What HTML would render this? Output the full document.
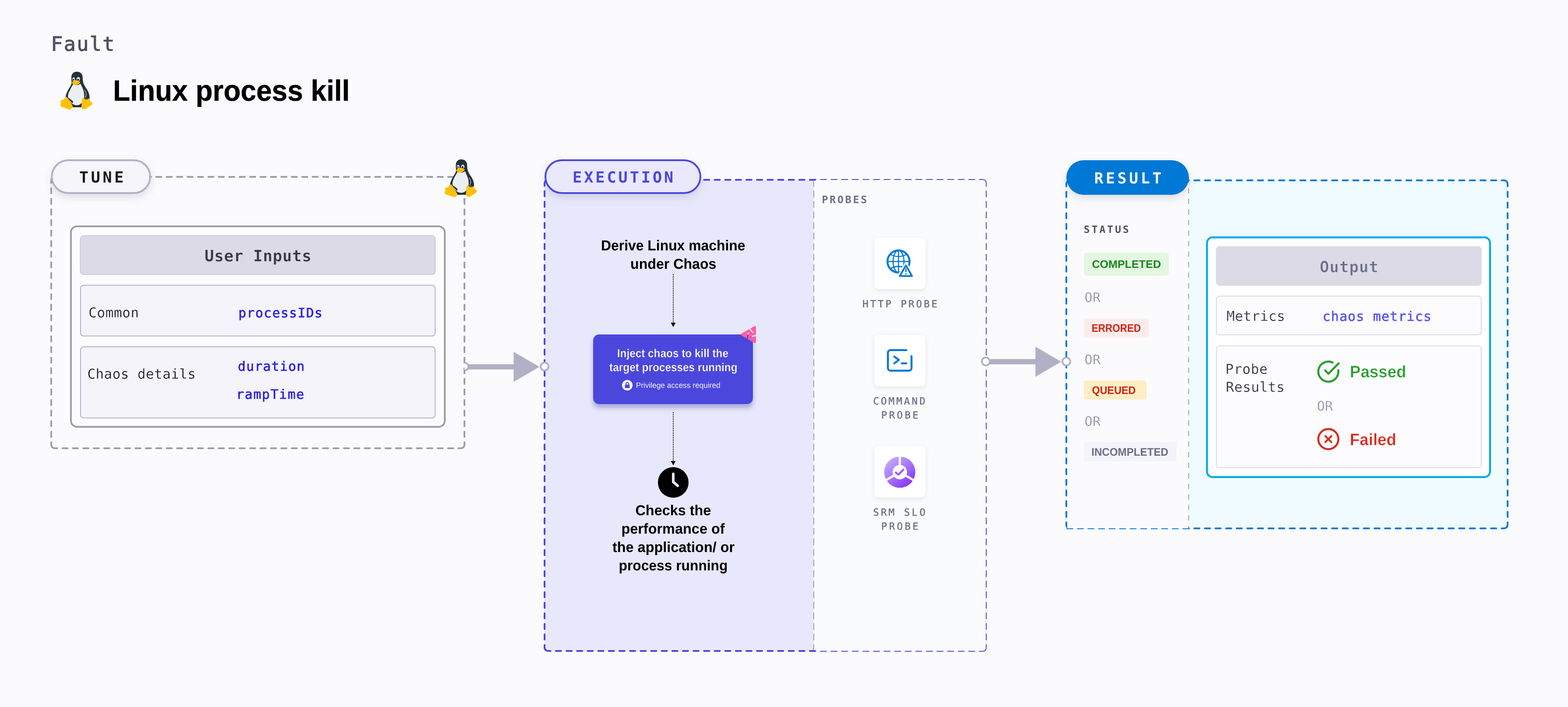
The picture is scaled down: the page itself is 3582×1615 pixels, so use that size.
<!DOCTYPE html>
<html lang="en">
<head>
<meta charset="utf-8">
<title>Fault - Linux process kill</title>
<style>
html,body{margin:0;padding:0;background:#fbfbfe}
svg{display:block;width:3582px;height:1615px;will-change:transform}
@media (min-resolution:1.5dppx){html,body{overflow:hidden}svg{width:100vw;height:auto}}
text{white-space:pre}
</style>
</head>
<body>
<svg viewBox="0 0 3582 1615" width="3582" height="1615" text-rendering="geometricPrecision">
<defs>
<filter id="shPill" x="-20%" y="-40%" width="140%" height="200%"><feDropShadow dx="0" dy="8" stdDeviation="9" flood-color="#606170" flood-opacity="0.18"/></filter>
<filter id="shBox" x="-20%" y="-30%" width="140%" height="180%"><feDropShadow dx="0" dy="9" stdDeviation="5.5" flood-color="#2b2a8f" flood-opacity="0.33"/></filter>
<filter id="shCard" x="-30%" y="-30%" width="160%" height="170%"><feDropShadow dx="0" dy="3" stdDeviation="5" flood-color="#606170" flood-opacity="0.16"/></filter>
<linearGradient id="gSrm" x1="0.15" y1="0.1" x2="0.8" y2="0.95"><stop offset="0" stop-color="#c4a6ff"/><stop offset="0.5" stop-color="#a574fb"/><stop offset="1" stop-color="#8433f7"/></linearGradient>

</defs>
<rect x="0" y="0" width="3582" height="1615" fill="#fbfbfe"/>
<text x="116.31" y="116.45" font-family='"DejaVu Sans Mono", "Liberation Mono", monospace' font-size="45.13" font-weight="normal" fill="#4f5162" letter-spacing="2.296" stroke="#4f5162" stroke-width="1.1" stroke-linejoin="miter">Fault</text>
<g transform="translate(121.69,154.93) scale(0.09050)">
<path fill="#263238" d="M590 98C520 98 462 150 458 225C455 280 462 340 462 380C462 420 440 450 415 490C370 560 325 650 310 730L500 995L710 995L915 790C925 720 905 640 860 560C810 480 760 420 748 330C742 280 745 240 735 195C720 135 660 98 590 98Z"/>
<path fill="#eceff1" d="M500 415C470 470 440 520 410 580C380 640 362 700 380 760C410 850 480 940 585 945C690 945 770 860 780 740C788 640 760 560 730 490C715 455 700 430 690 400C640 440 560 445 500 415Z"/>
<path fill="#263238" d="M378 755L492 838C508 852 500 880 482 892L395 800Z"/>
<path fill="none" stroke="#eceff1" stroke-width="12" stroke-linecap="round" d="M790 565C835 610 850 690 805 748"/>
<ellipse cx="825" cy="790" rx="38" ry="28" fill="#455a64"/>
<ellipse cx="515" cy="285" rx="32" ry="45" fill="#eceff1"/>
<ellipse cx="632" cy="283" rx="42" ry="50" fill="#eceff1"/>
<ellipse cx="512" cy="296" rx="15" ry="22" fill="#111"/>
<ellipse cx="628" cy="298" rx="22" ry="25" fill="#111"/>
<path fill="#ffc107" d="M470 372C490 345 520 315 550 310C580 308 610 325 650 340C670 347 685 352 680 365C670 395 620 425 570 438C540 445 510 430 495 410C480 395 465 385 470 372Z"/>
<path fill="none" stroke="#c8940a" stroke-width="6" stroke-linecap="round" d="M495 390C540 410 600 390 660 360"/>
<path fill="#ffc107" d="M325 733C345 735 365 760 390 800C420 850 470 920 488 960C500 1000 470 1050 420 1052C370 1050 300 1010 240 995C200 985 175 975 180 950C185 925 195 900 190 870C185 840 180 820 200 815C240 808 270 800 285 775C295 755 305 733 325 733Z"/>
<path fill="#ffc107" d="M745 760C770 755 790 780 810 800C840 810 870 790 905 775C920 790 925 830 945 855C965 875 1000 890 992 910C975 945 900 980 850 1020C810 1050 760 1050 730 1030C700 1005 715 950 720 900C725 850 715 790 745 760Z"/>
</g>
<text transform="translate(262.25,229.65) scale(0.9575,1)" x="-4.18" y="0" font-family='"Liberation Sans", sans-serif' font-size="66.86" font-weight="bold" fill="#000" stroke="#000" stroke-width="0.5" stroke-linejoin="round" >Linux process kill</text>
<path d="M119.34 406.34A8 8 0 0 1 125.00 404.00L1053.00 404.00A8 8 0 0 1 1058.66 406.34" fill="none" stroke="#9b9fa6" stroke-width="4" stroke-linecap="round" stroke-dasharray="12.000 11.809" />
<path d="M1058.66 406.34A8 8 0 0 1 1061.00 412.00L1061.00 1015.90A8 8 0 0 1 1058.66 1021.56" fill="none" stroke="#9b9fa6" stroke-width="4" stroke-linecap="round" stroke-dasharray="12.000 12.179" />
<path d="M1058.66 1021.56A8 8 0 0 1 1053.00 1023.90L125.00 1023.90A8 8 0 0 1 119.34 1021.56" fill="none" stroke="#9b9fa6" stroke-width="4" stroke-linecap="round" stroke-dasharray="12.000 11.809" />
<path d="M119.34 1021.56A8 8 0 0 1 117.00 1015.90L117.00 412.00A8 8 0 0 1 119.34 406.34" fill="none" stroke="#9b9fa6" stroke-width="4" stroke-linecap="round" stroke-dasharray="12.000 12.179" />
<rect x="162.00" y="517.00" width="854.00" height="458.00" rx="14.00" fill="#fcfcff" stroke="#9b9fa6" stroke-width="4" />
<rect x="183.30" y="538.20" width="811.20" height="89.00" rx="7.50" fill="#dbdae6" stroke="#b0b1c4" stroke-width="1" />
<text x="467.32" y="597.00" font-family='"DejaVu Sans Mono", "Liberation Mono", monospace' font-size="35.94" font-weight="bold" fill="#363745" letter-spacing="0.612" stroke="#dbdae6" stroke-width="0.4" >User Inputs</text>
<rect x="184.00" y="651.50" width="810.00" height="116.00" rx="7.00" fill="#f4f4fa" stroke="#b0b1c4" stroke-width="2" />
<text x="202.20" y="725.05" font-family='"DejaVu Sans Mono", "Liberation Mono", monospace' font-size="31.14" font-weight="normal" fill="#1c1c28" letter-spacing="0.531" stroke="#f4f4fa" stroke-width="0.3" >Common</text>
<text x="544.52" y="724.55" font-family='"DejaVu Sans Mono", "Liberation Mono", monospace' font-size="29.77" font-weight="normal" fill="#2b20e2" letter-spacing="1.421" stroke="#2b20e2" stroke-width="0.7" stroke-linejoin="round" >processIDs</text>
<rect x="184.00" y="792.20" width="810.00" height="162.60" rx="7.00" fill="#f4f4fa" stroke="#b0b1c4" stroke-width="2" />
<text x="199.40" y="865.15" font-family='"DejaVu Sans Mono", "Liberation Mono", monospace' font-size="31.14" font-weight="normal" fill="#1c1c28" letter-spacing="0.361" stroke="#f4f4fa" stroke-width="0.3" >Chaos details</text>
<text x="543.25" y="846.95" font-family='"DejaVu Sans Mono", "Liberation Mono", monospace' font-size="29.77" font-weight="normal" fill="#2b20e2" letter-spacing="1.286" stroke="#2b20e2" stroke-width="0.7" stroke-linejoin="round" >duration</text>
<text x="539.53" y="910.55" font-family='"DejaVu Sans Mono", "Liberation Mono", monospace' font-size="29.77" font-weight="normal" fill="#2b20e2" letter-spacing="1.684" stroke="#2b20e2" stroke-width="0.7" stroke-linejoin="round" >rampTime</text>
<g filter="url(#shPill)">
<rect x="118.50" y="366.00" width="224.50" height="75.00" rx="37.50" fill="#f5f5fa" stroke="#b0b1c4" stroke-width="4" />
</g>
<text x="180.90" y="416.90" font-family='"DejaVu Sans Mono", "Liberation Mono", monospace' font-size="35.12" font-weight="bold" fill="#16191c" letter-spacing="5.656" >TUNE</text>
<g transform="translate(999.99,355.03) scale(0.09050)">
<path fill="#263238" d="M590 98C520 98 462 150 458 225C455 280 462 340 462 380C462 420 440 450 415 490C370 560 325 650 310 730L500 995L710 995L915 790C925 720 905 640 860 560C810 480 760 420 748 330C742 280 745 240 735 195C720 135 660 98 590 98Z"/>
<path fill="#eceff1" d="M500 415C470 470 440 520 410 580C380 640 362 700 380 760C410 850 480 940 585 945C690 945 770 860 780 740C788 640 760 560 730 490C715 455 700 430 690 400C640 440 560 445 500 415Z"/>
<path fill="#263238" d="M378 755L492 838C508 852 500 880 482 892L395 800Z"/>
<path fill="none" stroke="#eceff1" stroke-width="12" stroke-linecap="round" d="M790 565C835 610 850 690 805 748"/>
<ellipse cx="825" cy="790" rx="38" ry="28" fill="#455a64"/>
<ellipse cx="515" cy="285" rx="32" ry="45" fill="#eceff1"/>
<ellipse cx="632" cy="283" rx="42" ry="50" fill="#eceff1"/>
<ellipse cx="512" cy="296" rx="15" ry="22" fill="#111"/>
<ellipse cx="628" cy="298" rx="22" ry="25" fill="#111"/>
<path fill="#ffc107" d="M470 372C490 345 520 315 550 310C580 308 610 325 650 340C670 347 685 352 680 365C670 395 620 425 570 438C540 445 510 430 495 410C480 395 465 385 470 372Z"/>
<path fill="none" stroke="#c8940a" stroke-width="6" stroke-linecap="round" d="M495 390C540 410 600 390 660 360"/>
<path fill="#ffc107" d="M325 733C345 735 365 760 390 800C420 850 470 920 488 960C500 1000 470 1050 420 1052C370 1050 300 1010 240 995C200 985 175 975 180 950C185 925 195 900 190 870C185 840 180 820 200 815C240 808 270 800 285 775C295 755 305 733 325 733Z"/>
<path fill="#ffc107" d="M745 760C770 755 790 780 810 800C840 810 870 790 905 775C920 790 925 830 945 855C965 875 1000 890 992 910C975 945 900 980 850 1020C810 1050 760 1050 730 1030C700 1005 715 950 720 900C725 850 715 790 745 760Z"/>
</g>
<rect x="1859" y="411" width="394" height="1076" fill="#fafbfd"/>
<path d="M1245.34 412.34A8 8 0 0 1 1251.00 410.00L2245.00 410.00A8 8 0 0 1 2250.66 412.34" fill="none" stroke="#4b46dd" stroke-width="2" stroke-linecap="round" stroke-dasharray="14.000 10.209" />
<path d="M2250.66 412.34A8 8 0 0 1 2253.00 418.00L2253.00 1479.80A8 8 0 0 1 2250.66 1485.46" fill="none" stroke="#4b46dd" stroke-width="2" stroke-linecap="round" stroke-dasharray="14.000 10.099" />
<path d="M2250.66 1485.46A8 8 0 0 1 2245.00 1487.80L1251.00 1487.80A8 8 0 0 1 1245.34 1485.46" fill="none" stroke="#4b46dd" stroke-width="2" stroke-linecap="round" stroke-dasharray="14.000 10.209" />
<path d="M1245.34 1485.46A8 8 0 0 1 1243.00 1479.80L1243.00 418.00A8 8 0 0 1 1245.34 412.34" fill="none" stroke="#4b46dd" stroke-width="2" stroke-linecap="round" stroke-dasharray="14.000 10.099" />
<rect x="1242" y="408" width="617" height="1082" fill="#fbfbfe"/>
<rect x="1244" y="411" width="615" height="1075.5" fill="#e8e8fd"/>
<path d="M1246.34 413.14A8 8 0 0 1 1252.00 410.80L1862.00 410.80" fill="none" stroke="#4b46dd" stroke-width="4" stroke-linecap="round" stroke-dasharray="12.000 12.171" />
<path d="M1862.00 1486.90L1252.00 1486.90A8 8 0 0 1 1246.34 1484.56" fill="none" stroke="#4b46dd" stroke-width="4" stroke-linecap="round" stroke-dasharray="12.000 12.171" />
<path d="M1246.34 1484.56A8 8 0 0 1 1244.00 1478.90L1244.00 418.80A8 8 0 0 1 1246.34 413.14" fill="none" stroke="#4b46dd" stroke-width="4" stroke-linecap="round" stroke-dasharray="12.000 12.106" />
<clipPath id="clDiv"><rect x="1850" y="413.5" width="20" height="1071.5"/></clipPath>
<path d="M1856.66 412.34A8 8 0 0 1 1859.00 418.00L1859.00 1479.80A8 8 0 0 1 1856.66 1485.46" fill="none" stroke="#9b9fa6" stroke-width="2" stroke-linecap="round" stroke-dasharray="14.000 10.099" clip-path="url(#clDiv)"/>
<g filter="url(#shPill)">
<rect x="1246.00" y="366.00" width="354.00" height="75.00" rx="37.50" fill="#e9e8fd" stroke="#4b46dd" stroke-width="4" />
</g>
<text x="1308.06" y="416.90" font-family='"DejaVu Sans Mono", "Liberation Mono", monospace' font-size="35.12" font-weight="bold" fill="#4b46dd" letter-spacing="4.988" >EXECUTION</text>
<text x="1877.38" y="464.10" font-family='"DejaVu Sans Mono", "Liberation Mono", monospace' font-size="23.32" font-weight="bold" fill="#6b6d85" letter-spacing="3.794" >PROBES</text>
<text transform="translate(1375.00,572.30) scale(0.9624,1)" x="-2.07" y="0" font-family='"Liberation Sans", sans-serif' font-size="33.14" font-weight="bold" fill="#000" >Derive Linux machine</text>
<text transform="translate(1441.50,614.20) scale(0.9702,1)" x="-1.55" y="0" font-family='"Liberation Sans", sans-serif' font-size="33.14" font-weight="bold" fill="#000" >under Chaos</text>
<path d="M1538 626V738" stroke="#000" stroke-width="2" stroke-dasharray="2 2" fill="none"/>
<polygon points="1532.5,737 1543.5,737 1538,747" fill="#000"/>
<g filter="url(#shBox)">
<rect x="1355.00" y="764.00" width="365.00" height="159.00" rx="13.50" fill="#4b46dd" />
</g>
<text transform="translate(1411.30,816.40) scale(0.9149,1)" x="-1.66" y="0" font-family='"Liberation Sans", sans-serif' font-size="26.60" font-weight="bold" fill="#fff" stroke="#4b46dd" stroke-width="0.4" >Inject chaos to kill the</text>
<text transform="translate(1392.10,848.20) scale(0.9163,1)" x="0.00" y="0" font-family='"Liberation Sans", sans-serif' font-size="26.60" font-weight="bold" fill="#fff" stroke="#4b46dd" stroke-width="0.4" >target processes running</text>
<circle cx="1433" cy="880" r="12" fill="#fff"/>
<rect x="1427.5" y="878.500" width="11" height="8" rx="1" fill="#4b46dd"/>
<path d="M1430 879V876.500A3 3 0 0 1 1436 876.500V879" stroke="#4b46dd" stroke-width="1.800" fill="none"/>
<text transform="translate(1454.00,886.00) scale(0.9911,1)" x="-1.36" y="0" font-family='"Liberation Sans", sans-serif' font-size="17.44" font-weight="normal" fill="#f0efff" >Privilege access required</text>
<mask id="mPink"><rect x="1680" y="735" width="60" height="60" fill="#fff"/>
<path d="M1712.800 750.800L1720 760.100M1727.500 766L1715.300 769.200M1707.400 774.600L1709.100 760.800" stroke="#000" stroke-width="2.500" stroke-linecap="round" fill="none"/></mask>
<path mask="url(#mPink)" fill="#ff5fa0" stroke="#ff5fa0" stroke-width="5" stroke-linejoin="round" d="M1695.300 764L1724.500 747.300V781.200Z"/>
<path d="M1538 942V1054" stroke="#000" stroke-width="2" stroke-dasharray="2 2" fill="none"/>
<polygon points="1532.5,1053 1543.5,1053 1538,1063" fill="#000"/>
<circle cx="1538" cy="1102" r="35" fill="#000"/>
<path d="M1538 1082.500V1101L1548 1109.500" stroke="#e8e8fd" stroke-width="6" stroke-linecap="round" stroke-linejoin="round" fill="none"/>
<text transform="translate(1452.50,1177.30) scale(0.9774,1)" x="-1.04" y="0" font-family='"Liberation Sans", sans-serif' font-size="33.14" font-weight="bold" fill="#000" >Checks the</text>
<text transform="translate(1421.40,1219.40) scale(0.9795,1)" x="-2.07" y="0" font-family='"Liberation Sans", sans-serif' font-size="33.14" font-weight="bold" fill="#000" >performance of</text>
<text transform="translate(1399.00,1260.70) scale(0.9785,1)" x="0.00" y="0" font-family='"Liberation Sans", sans-serif' font-size="33.14" font-weight="bold" fill="#000" >the application/ or</text>
<text transform="translate(1415.50,1303.10) scale(0.9591,1)" x="-2.07" y="0" font-family='"Liberation Sans", sans-serif' font-size="33.14" font-weight="bold" fill="#000" >process running</text>
<g filter="url(#shCard)">
<rect x="1997.00" y="543.20" width="117.50" height="117.50" rx="12.00" fill="#fff" />
</g>
<g filter="url(#shCard)">
<rect x="1997.00" y="765.20" width="117.50" height="117.50" rx="12.00" fill="#fff" />
</g>
<g filter="url(#shCard)">
<rect x="1997.00" y="1019.20" width="117.50" height="117.50" rx="12.00" fill="#fff" />
</g>
<mask id="mGlobe"><rect x="2010" y="560" width="90" height="80" fill="#fff"/><path d="M2069.500 605L2054 631.500H2085Z" fill="#000" stroke="#000" stroke-width="9" stroke-linejoin="round"/></mask>
<g mask="url(#mGlobe)" fill="none" stroke="#0278d5">
<circle cx="2052.600" cy="597.300" r="25.200" stroke-width="4.500"/>
<ellipse cx="2052.600" cy="597.300" rx="12.500" ry="25.200" stroke-width="2.600"/>
<path d="M2052.600 572V622.500M2027.500 597.300H2078" stroke-width="2.600"/>
<path d="M2034 581C2045 587.500 2060 587.500 2071 581M2034 613.500C2045 607 2060 607 2071 613.500" stroke-width="2.600"/>
</g>
<path d="M2069.500 606.500L2055.500 630.400H2083.500Z" fill="#fff" stroke="#0278d5" stroke-width="4" stroke-linejoin="round"/>
<path d="M2069.500 614V621.500" stroke="#0278d5" stroke-width="2.800" fill="none"/><circle cx="2069.500" cy="625.500" r="1.700" fill="#0278d5"/>
<text x="1970.29" y="701.60" font-family='"DejaVu Sans Mono", "Liberation Mono", monospace' font-size="22.50" font-weight="normal" fill="#6b6d85" letter-spacing="3.956" stroke="#6b6d85" stroke-width="0.4" stroke-linejoin="round" >HTTP PROBE</text>
<g fill="none" stroke="#0278d5" stroke-width="4.500" stroke-linecap="round" stroke-linejoin="round">
<path d="M2070.500 799.800H2034.400A6 6 0 0 0 2028.400 805.800V840.700A6 6 0 0 0 2034.400 846.700H2076.300A6 6 0 0 0 2082.300 840.700V813.500"/>
<path d="M2042.800 814.500L2053.500 822.200L2042.800 830M2060 830H2070.500"/></g>
<text x="1994.49" y="923.80" font-family='"DejaVu Sans Mono", "Liberation Mono", monospace' font-size="22.50" font-weight="normal" fill="#6b6d85" letter-spacing="4.106" stroke="#6b6d85" stroke-width="0.4" stroke-linejoin="round" >COMMAND</text>
<text x="2013.09" y="955.80" font-family='"DejaVu Sans Mono", "Liberation Mono", monospace' font-size="22.50" font-weight="normal" fill="#6b6d85" letter-spacing="4.307" stroke="#6b6d85" stroke-width="0.4" stroke-linejoin="round" >PROBE</text>
<circle cx="2055.500" cy="1078.500" r="35.600" fill="url(#gSrm)"/>
<path d="M2055.500 1078.500V1040M2055.500 1078.500L2088 1097.300M2055.500 1078.500L2023 1097.300" stroke="#fff" stroke-width="5" fill="none"/>
<circle cx="2055.500" cy="1078.500" r="16.500" fill="#fff"/>
<path d="M2046.500 1079.500L2052.200 1084.300L2063.800 1072.800" stroke="#9a5cfa" stroke-width="4.500" stroke-linecap="round" stroke-linejoin="round" fill="none"/>
<text x="1994.49" y="1178.00" font-family='"DejaVu Sans Mono", "Liberation Mono", monospace' font-size="22.50" font-weight="normal" fill="#6b6d85" letter-spacing="4.123" stroke="#6b6d85" stroke-width="0.4" stroke-linejoin="round" >SRM SLO</text>
<text x="2013.09" y="1210.00" font-family='"DejaVu Sans Mono", "Liberation Mono", monospace' font-size="22.50" font-weight="normal" fill="#6b6d85" letter-spacing="4.307" stroke="#6b6d85" stroke-width="0.4" stroke-linejoin="round" >PROBE</text>
<rect x="2436" y="412" width="1008" height="795" rx="8" fill="#f0fbff"/>
<rect x="2438" y="412" width="278" height="795" fill="#fbfbfe"/>
<path d="M2438.34 414.34A8 8 0 0 1 2444.00 412.00L3436.00 412.00A8 8 0 0 1 3441.66 414.34" fill="none" stroke="#0278d5" stroke-width="4" stroke-linecap="round" stroke-dasharray="12.000 12.209" />
<path d="M3441.66 414.34A8 8 0 0 1 3444.00 420.00L3444.00 1199.00A8 8 0 0 1 3441.66 1204.66" fill="none" stroke="#0278d5" stroke-width="4" stroke-linecap="round" stroke-dasharray="12.000 12.361" />
<path d="M3441.66 1204.66A8 8 0 0 1 3436.00 1207.00L2444.00 1207.00A8 8 0 0 1 2438.34 1204.66" fill="none" stroke="#0278d5" stroke-width="4" stroke-linecap="round" stroke-dasharray="12.000 12.209" />
<path d="M2438.34 1204.66A8 8 0 0 1 2436.00 1199.00L2436.00 420.00A8 8 0 0 1 2438.34 414.34" fill="none" stroke="#0278d5" stroke-width="4" stroke-linecap="round" stroke-dasharray="12.000 12.361" />
<rect x="2438.2" y="414.2" width="277.8" height="796" fill="#fbfbfe"/>
<path d="M2437.00 1207.70L2716.00 1207.70" fill="none" stroke="#0278d5" stroke-width="2" stroke-linecap="round" stroke-dasharray="14.000 10.091" />
<path d="M2715.400 405.760V1207" stroke="#6b6d85" stroke-width="1.200" stroke-dasharray="12.100 12.010" fill="none"/>
<g filter="url(#shPill)">
<rect x="2436.00" y="366.00" width="280.00" height="79.00" rx="39.50" fill="#0278d5" />
</g>
<text x="2499.74" y="418.80" font-family='"DejaVu Sans Mono", "Liberation Mono", monospace' font-size="34.57" font-weight="bold" fill="#fff" letter-spacing="5.732" >RESULT</text>
<text x="2475.77" y="531.90" font-family='"DejaVu Sans Mono", "Liberation Mono", monospace' font-size="22.91" font-weight="bold" fill="#4f5162" letter-spacing="4.069" >STATUS</text>
<rect x="2476.00" y="577.00" width="194.00" height="53.00" rx="8.00" fill="#e4f7e1" />
<text transform="translate(2495.20,612.00) scale(0.9987,1)" x="-0.79" y="0" font-family='"Liberation Sans", sans-serif' font-size="25.15" font-weight="bold" fill="#1b841d" >COMPLETED</text>
<text x="2477.44" y="690.05" font-family='"DejaVu Sans Mono", "Liberation Mono", monospace' font-size="30.18" font-weight="normal" fill="#9293ab" letter-spacing="0.356" stroke="#fbfbfe" stroke-width="0.3" >OR</text>
<rect x="2476.00" y="727.00" width="149.00" height="44.60" rx="5.00" fill="#fcedec" />
<text transform="translate(2495.20,757.70) scale(0.8954,1)" x="-1.57" y="0" font-family='"Liberation Sans", sans-serif' font-size="25.15" font-weight="bold" fill="#cf2318" >ERRORED</text>
<text x="2477.44" y="832.15" font-family='"DejaVu Sans Mono", "Liberation Mono", monospace' font-size="30.18" font-weight="normal" fill="#9293ab" letter-spacing="0.356" stroke="#fbfbfe" stroke-width="0.3" >OR</text>
<rect x="2476.00" y="869.00" width="143.00" height="43.60" rx="5.00" fill="#fdeec3" />
<text transform="translate(2495.20,899.60) scale(0.9299,1)" x="-0.79" y="0" font-family='"Liberation Sans", sans-serif' font-size="25.15" font-weight="bold" fill="#cf2318" >QUEUED</text>
<text x="2477.44" y="973.25" font-family='"DejaVu Sans Mono", "Liberation Mono", monospace' font-size="30.18" font-weight="normal" fill="#9293ab" letter-spacing="0.356" stroke="#fbfbfe" stroke-width="0.3" >OR</text>
<rect x="2476.00" y="1010.00" width="212.00" height="43.50" rx="5.00" fill="#f3f3fa" />
<text transform="translate(2494.70,1041.20) scale(0.9609,1)" x="-1.57" y="0" font-family='"Liberation Sans", sans-serif' font-size="25.15" font-weight="bold" fill="#6b6d85" >INCOMPLETED</text>
<rect x="2757.30" y="542.30" width="646.60" height="547.40" rx="12.80" fill="#fff" stroke="#00ade4" stroke-width="4.4" />
<rect x="2777.70" y="562.40" width="607.10" height="90.30" rx="8.00" fill="#dbdae6" />
<text x="3014.69" y="622.40" font-family='"DejaVu Sans Mono", "Liberation Mono", monospace' font-size="35.67" font-weight="bold" fill="#6b6d85" letter-spacing="1.041" stroke="#dbdae6" stroke-width="0.8" >Output</text>
<rect x="2778.70" y="676.40" width="605.10" height="88.30" rx="7.00" fill="#fcfcff" stroke="#d9dae5" stroke-width="2" />
<text x="2801.77" y="733.45" font-family='"DejaVu Sans Mono", "Liberation Mono", monospace' font-size="31.41" font-weight="normal" fill="#30313f" letter-spacing="0.269" stroke="#fcfcff" stroke-width="0.3" >Metrics</text>
<text x="3021.23" y="732.95" font-family='"DejaVu Sans Mono", "Liberation Mono", monospace' font-size="30.04" font-weight="normal" fill="#5b52ee" letter-spacing="1.133" stroke="#5b52ee" stroke-width="0.7" stroke-linejoin="round" >chaos metrics</text>
<rect x="2778.70" y="790.30" width="605.10" height="278.00" rx="7.00" fill="#fcfcff" stroke="#d9dae5" stroke-width="2" />
<text x="2799.31" y="854.15" font-family='"DejaVu Sans Mono", "Liberation Mono", monospace' font-size="31.41" font-weight="normal" fill="#30313f" letter-spacing="0.429" stroke="#fcfcff" stroke-width="0.3" >Probe</text>
<text x="2800.29" y="895.15" font-family='"DejaVu Sans Mono", "Liberation Mono", monospace' font-size="31.41" font-weight="normal" fill="#30313f" letter-spacing="0.332" stroke="#fcfcff" stroke-width="0.3" >Results</text>
<g fill="none" stroke="#2a9d2f" stroke-width="4.700" stroke-linecap="round" stroke-linejoin="round">
<path d="M3057.200 845.870A22.900 22.900 0 1 1 3043.850 828"/>
<path d="M3027.300 846.200L3034.700 853.800L3058 830"/></g>
<text transform="translate(3085.85,861.85) scale(0.9676,1)" x="-2.38" y="0" font-family='"Liberation Sans", sans-serif' font-size="38.08" font-weight="bold" fill="#2a9d2f" stroke="#fcfcff" stroke-width="0.5" >Passed</text>
<text x="3008.44" y="937.65" font-family='"DejaVu Sans Mono", "Liberation Mono", monospace' font-size="30.18" font-weight="normal" fill="#9293ab" letter-spacing="0.256" stroke="#fbfbfe" stroke-width="0.3" >OR</text>
<g fill="none" stroke="#da291d" stroke-linecap="round">
<circle cx="3034.500" cy="1003" r="22.950" stroke-width="4.500"/>
<path d="M3027.500 996L3041.500 1010M3041.500 996L3027.500 1010" stroke-width="4.100"/></g>
<text transform="translate(3085.85,1016.75) scale(0.9646,1)" x="-2.38" y="0" font-family='"Liberation Sans", sans-serif' font-size="38.08" font-weight="bold" fill="#da291d" stroke="#fcfcff" stroke-width="0.5" >Failed</text>
<rect x="1061.0" y="832.0" width="113.3" height="12" fill="#b0b1c4"/>
<polygon points="1173.3,803.5 1232.3,838.0 1173.3,872.5" fill="#b0b1c4"/>
<clipPath id="cl1061"><rect x="1061" y="818" width="40" height="40"/></clipPath>
<circle cx="1061" cy="837.2" r="9" fill="#fff" stroke="#b0b1c4" stroke-width="4" clip-path="url(#cl1061)"/>
<circle cx="1244" cy="837.2" r="9" fill="#fff" stroke="#b0b1c4" stroke-width="4"/>
<rect x="2252.0" y="820.2" width="114.3" height="12" fill="#b0b1c4"/>
<polygon points="2365.3,791.7 2424.3,826.2 2365.3,860.7" fill="#b0b1c4"/>
<circle cx="2252" cy="825.7" r="9" fill="#fff" stroke="#b0b1c4" stroke-width="4"/>
<circle cx="2436" cy="825.7" r="9" fill="#fff" stroke="#b0b1c4" stroke-width="4"/>
</svg>
</body>
</html>
